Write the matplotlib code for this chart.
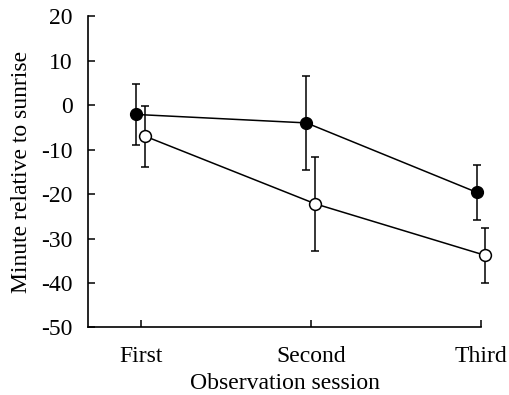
import matplotlib
matplotlib.use('Agg')
import matplotlib.pyplot as plt
import numpy as np

sessions = ['First', 'Second', 'Third']
filled_mean = [-2.1, -4.0, -19.6]
filled_err = [6.9, 10.5, 6.2]
open_mean = [-7.0, -22.2, -33.8]
open_err = [6.9, 10.5, 6.1]

plt.rcParams['font.family'] = 'Liberation Serif'
plt.rcParams['font.size'] = 17
plt.rcParams['axes.unicode_minus'] = False

fig = plt.figure(figsize=(5.09, 3.95), dpi=100)
ax = fig.add_axes([0.173, 0.171, 0.772, 0.788])

x = np.arange(1, len(sessions) + 1)
off = 0.026

for line in [
    ax.errorbar(x - off, filled_mean, yerr=filled_err, color='black', lw=1.1,
                marker='o', ms=8.5, mfc='black', mec='black', capsize=3,
                elinewidth=1.1, capthick=1.1, zorder=3),
    ax.errorbar(x + off, open_mean, yerr=open_err, color='black', lw=1.1,
                marker='o', ms=8.5, mfc='white', mec='black', mew=1.1, capsize=3,
                elinewidth=1.1, capthick=1.1, zorder=4),
]:
    for artist in line.get_children():
        artist.set_clip_on(False)

ax.set_xlim(0.69, 3.0)
ax.set_ylim(-50, 20)
ax.set_yticks(range(-50, 21, 10))
ax.set_xticks(x)
ax.set_xticklabels(sessions)
ax.tick_params(direction='in', length=5, width=1.1)
ax.tick_params(axis='x', pad=13)
ax.tick_params(axis='y', pad=11)
ax.spines['top'].set_visible(False)
ax.spines['right'].set_visible(False)
for s in ['left', 'bottom']:
    ax.spines[s].set_linewidth(1.2)

ax.set_xlabel('Observation session', labelpad=5)
ax.set_ylabel('Minute relative to sunrise', labelpad=7)

fig.savefig('out.png', dpi=100)
